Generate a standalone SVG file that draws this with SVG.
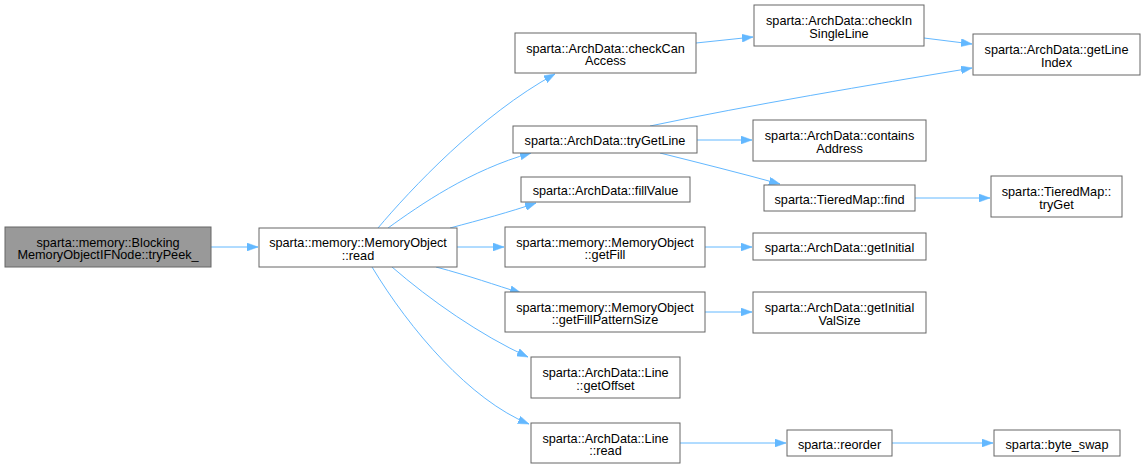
<svg xmlns="http://www.w3.org/2000/svg" width="1145" height="469" viewBox="0 0 1145 469">
<style>
.n rect{fill:#fff;stroke:#666;stroke-width:1}
.n.root rect{fill:#999;stroke:#666}
text{font-family:"Liberation Sans",Arial,sans-serif;font-size:12.7px;fill:#000;text-anchor:middle}
.e path{fill:none;stroke:#63b8ff;stroke-width:1}
</style>
<defs>
<marker id="ah" markerWidth="11" markerHeight="8" refX="11" refY="4" orient="auto" markerUnits="userSpaceOnUse">
<path d="M0,0 L11,4 L0,8 Z" fill="#63b8ff" stroke="#63b8ff" stroke-width="0.5"/>
</marker>
</defs>
<rect width="1145" height="469" fill="#fff"/>
<g id="edges" class="e">
<path d="M211,247 L258,247" marker-end="url(#ah)"/>
<path d="M378,228 C410,190 480,115 555,74" marker-end="url(#ah)"/>
<path d="M388,228 C420,205 470,170 531,153" marker-end="url(#ah)"/>
<path d="M450,228 C480,220 510,212 536,203" marker-end="url(#ah)"/>
<path d="M457,247 L504,247" marker-end="url(#ah)"/>
<path d="M436,267 C470,276 495,285 521,293" marker-end="url(#ah)"/>
<path d="M392,267 C430,300 480,335 528,357" marker-end="url(#ah)"/>
<path d="M372,267 C410,330 470,400 529,424" marker-end="url(#ah)"/>
<path d="M696,43 L753,37" marker-end="url(#ah)"/>
<path d="M924,38 L972,44" marker-end="url(#ah)"/>
<path d="M650,126 C750,105 870,85 972,68" marker-end="url(#ah)"/>
<path d="M697,140 L752,140" marker-end="url(#ah)"/>
<path d="M660,153 C700,163 740,173 780,184" marker-end="url(#ah)"/>
<path d="M915,198 L990,198" marker-end="url(#ah)"/>
<path d="M705,247 L752,247" marker-end="url(#ah)"/>
<path d="M705,312 L752,312" marker-end="url(#ah)"/>
<path d="M680,443 L786,443" marker-end="url(#ah)"/>
<path d="M892,443 L993,443" marker-end="url(#ah)"/>
</g>
<g id="node_tryPeek" class="n root"><rect x="5" y="227" width="206" height="40"/><text x="108" y="246.5">sparta::memory::Blocking</text><text x="108" y="259">MemoryObjectIFNode::tryPeek_</text></g>
<g id="node_read" class="n"><rect x="259" y="228" width="198" height="39"/><text x="358" y="247">sparta::memory::MemoryObject</text><text x="358" y="259.5">::read</text></g>
<g id="node_checkCanAccess" class="n"><rect x="515" y="33" width="181" height="40"/><text x="605.5" y="52.5">sparta::ArchData::checkCan</text><text x="605.5" y="65">Access</text></g>
<g id="node_checkInSingleLine" class="n"><rect x="754" y="5" width="170" height="41"/><text x="839" y="25">sparta::ArchData::checkIn</text><text x="839" y="37.5">SingleLine</text></g>
<g id="node_getLineIndex" class="n"><rect x="973" y="34" width="167" height="41"/><text x="1056.5" y="54">sparta::ArchData::getLine</text><text x="1056.5" y="66.5">Index</text></g>
<g id="node_tryGetLine" class="n"><rect x="513" y="126" width="184" height="27"/><text x="605" y="145">sparta::ArchData::tryGetLine</text></g>
<g id="node_containsAddress" class="n"><rect x="753" y="120" width="173" height="41"/><text x="839.5" y="140">sparta::ArchData::contains</text><text x="839.5" y="152.5">Address</text></g>
<g id="node_fillValue" class="n"><rect x="521" y="177" width="169" height="25"/><text x="605.5" y="195">sparta::ArchData::fillValue</text></g>
<g id="node_find" class="n"><rect x="764" y="185" width="151" height="26"/><text x="839.5" y="203.5">sparta::TieredMap::find</text></g>
<g id="node_tryGet" class="n"><rect x="991" y="176" width="131" height="41"/><text x="1056.5" y="196">sparta::TieredMap::</text><text x="1056.5" y="208.5">tryGet</text></g>
<g id="node_getFill" class="n"><rect x="505" y="227" width="200" height="40"/><text x="605" y="246.5">sparta::memory::MemoryObject</text><text x="605" y="259">::getFill</text></g>
<g id="node_getInitial" class="n"><rect x="753" y="233" width="173" height="27"/><text x="839.5" y="252">sparta::ArchData::getInitial</text></g>
<g id="node_getFillPatternSize" class="n"><rect x="505" y="292" width="200" height="40"/><text x="605" y="311.5">sparta::memory::MemoryObject</text><text x="605" y="324">::getFillPatternSize</text></g>
<g id="node_getInitialValSize" class="n"><rect x="753" y="292" width="173" height="41"/><text x="839.5" y="312">sparta::ArchData::getInitial</text><text x="839.5" y="324.5">ValSize</text></g>
<g id="node_getOffset" class="n"><rect x="531" y="357" width="149" height="41"/><text x="605.5" y="377">sparta::ArchData::Line</text><text x="605.5" y="389.5">::getOffset</text></g>
<g id="node_lineRead" class="n"><rect x="531" y="423" width="149" height="40"/><text x="605.5" y="442.5">sparta::ArchData::Line</text><text x="605.5" y="455">::read</text></g>
<g id="node_reorder" class="n"><rect x="787" y="430" width="105" height="26"/><text x="839.5" y="448.5">sparta::reorder</text></g>
<g id="node_byte_swap" class="n"><rect x="994" y="430" width="126" height="26"/><text x="1057" y="448.5">sparta::byte_swap</text></g>
</svg>
